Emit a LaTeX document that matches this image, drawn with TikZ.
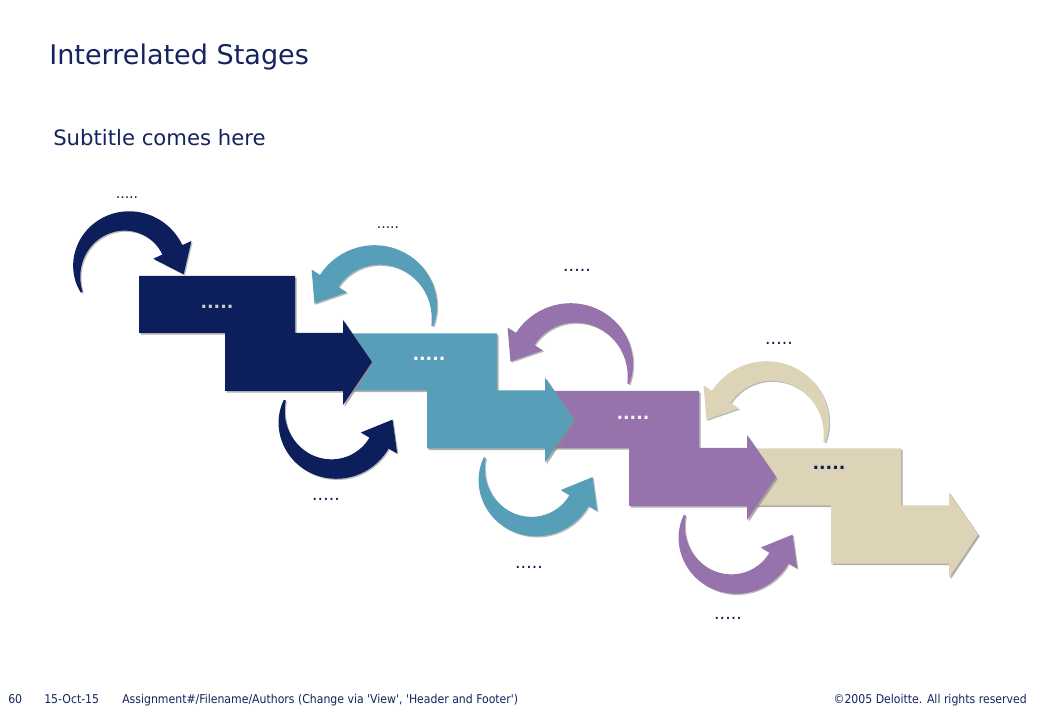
\documentclass[tikz,border=0pt]{standalone}
\usepackage{fontspec}
\setmainfont{DejaVu Sans}
\newfontfamily\footfont{DejaVu Sans Condensed}
\usetikzlibrary{shadows}
\definecolor{snavy}{HTML}{0C1F5C}
\definecolor{steal}{HTML}{579FB8}
\definecolor{spurple}{HTML}{9673AD}
\definecolor{sbeige}{HTML}{DDD3B7}
\definecolor{headblue}{HTML}{14245F}
% tapered curved arrow: colour, centre x, centre y, radius, start angle, end angle
\newcommand{\bendarrow}[6]{%
  \pgfmathsetmacro{\hd}{((#6)>(#5)) ? 1 : -1}%
  \pgfmathsetmacro{\tipang}{(#6)+\hd*atan(27/(#4))}%
  \pgfmathsetmacro{\tiprad}{sqrt((#4)*(#4)+729)}%
  \fill[#1, curvshade] plot[domain=0:1, samples=50]
      ({(#2)+((#4)+1+10*(1-(1-\x)^2))*cos((#5)+((#6)-(#5))*\x)}, {(#3)+((#4)+1+10*(1-(1-\x)^2))*sin((#5)+((#6)-(#5))*\x)})
    -- ({(#2)+((#4)+21)*cos(#6)}, {(#3)+((#4)+21)*sin(#6)})
    -- ({(#2)+\tiprad*cos(\tipang)}, {(#3)+\tiprad*sin(\tipang)})
    -- ({(#2)+((#4)-21)*cos(#6)}, {(#3)+((#4)-21)*sin(#6)})
    -- plot[domain=0:1, samples=50]
      ({(#2)+((#4)-1-10*(1-\x^2))*cos((#5)+((#6)-(#5))*(1-\x))}, {(#3)+((#4)-1-10*(1-\x^2))*sin((#5)+((#6)-(#5))*(1-\x))})
    -- cycle;}

\begin{document}
\begin{tikzpicture}[x=0.75pt, y=-0.75pt,
    stage/.style={drop shadow={shadow xshift=1.3pt, shadow yshift=-1.3pt, fill=black!45, opacity=0.7}},
    curvshade/.style={drop shadow={shadow xshift=0.9pt, shadow yshift=-0.9pt, fill=black!45, opacity=0.6}},
    dots/.style={font=\bfseries\fontsize{13}{13}\selectfont, inner sep=0pt},
    tiny/.style={font=\fontsize{10.5}{11}\selectfont, text=snavy!80!black, inner sep=0pt},
    small/.style={font=\fontsize{13}{13}\selectfont, text=snavy!80!black, inner sep=0pt},
    foot/.style={font=\footfont\fontsize{9.1}{10}\selectfont, text=headblue, inner sep=0pt}]
  \fill[white] (0,0) rectangle (1040,720);
  \useasboundingbox (0,0) rectangle (1040,720);

  \node[anchor=base west, inner sep=0pt, text=headblue, font=\fontsize{20.3}{24}\selectfont] (title) at (49,65) {Interrelated Stages};
  \node[anchor=base west, inner sep=0pt, text=headblue, font=\fontsize{15.9}{18}\selectfont] (subtitle) at (53,146) {Subtitle comes here};

  % stepped stages, last one first
  \foreach \i/\col in {3/sbeige, 2/spurple, 1/steal, 0/snavy}
    \fill[\col, stage, shift={(202*\i,57.5*\i)}] (139,276) -| (295,333) -| (343,320) -- (372,362)
      -- (343,405) |- (225,391) |- (139,333) -- cycle;

  \node[dots, text=black!20] (s1) at (217,307) {.....};
  \node[dots, text=white] (s2) at (429,359) {.....};
  \node[dots, text=white!92!spurple] (s3) at (633,418) {.....};
  \node[dots, text=snavy] (s4) at (829,468) {.....};

  % curved arrows
  \bendarrow{snavy}{127}{271}{50}{155}{335}
  \foreach \i/\col in {0/steal, 1/spurple, 2/sbeige}
    {\bendarrow{\col}{377+196*\i}{312+58*\i}{57}{14}{-147}}
  \foreach \i/\col in {0/snavy, 1/steal, 2/spurple}
    {\bendarrow{\col}{334+200*\i}{417+57.5*\i}{52}{199}{30}}

  \node[tiny] (t1) at (127,198) {.....};
  \node[tiny] (t2) at (388,228) {.....};
  \node[small] (t3) at (577,270) {.....};
  \node[small] (t4) at (779,343) {.....};
  \node[small] (b1) at (326,499) {.....};
  \node[small] (b2) at (529,567) {.....};
  \node[small] (b3) at (728,618) {.....};

  \node[foot, anchor=base west] (page) at (8,703) {60};
  \node[foot, anchor=base west] (date) at (44,703) {15-Oct-15};
  \node[foot, anchor=base west] (file) at (122,703) {Assignment\#/Filename/Authors (Change via 'View', 'Header and Footer')};
  \node[foot, anchor=base east] (copy) at (1027,703) {©2005 Deloitte. All rights reserved};
\end{tikzpicture}
\end{document}
